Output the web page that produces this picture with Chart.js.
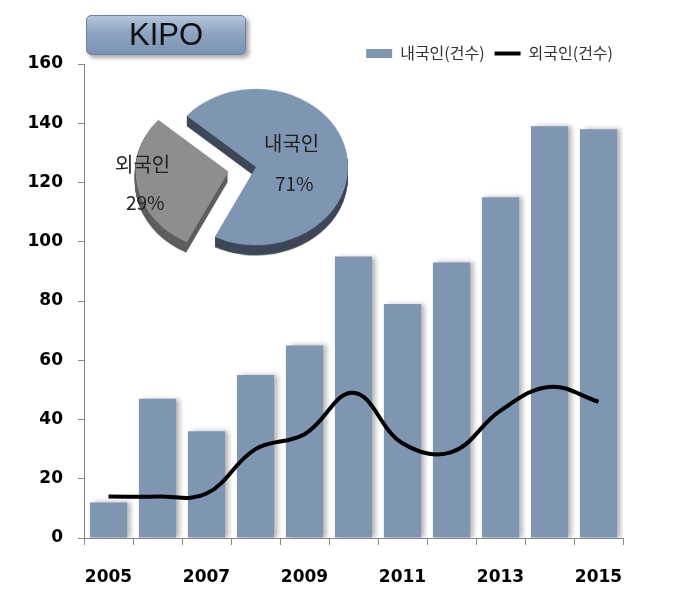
<!DOCTYPE html>
<html><head><meta charset="utf-8">
<script src="https://cdn.jsdelivr.net/npm/chart.js@4"></script>
<style>
html,body{margin:0;padding:0;background:#fff;}
#wrap{position:relative;width:695px;height:596px;overflow:hidden;background:#fff;}
#main{position:absolute;left:0;top:0;}
#title{position:absolute;left:86px;top:15px;width:158px;height:38px;border-radius:5px;
 background:linear-gradient(#b4c5dc,#8ea4c2 45%,#7b92b2);border:1px solid #6d829f;
 box-shadow:3px 3px 4px rgba(0,0,0,0.35);font:31px "Liberation Sans",Arial,sans-serif;color:#111;
 text-align:center;line-height:38px;}
#pie{position:absolute;left:116px;top:27px;transform:scaleY(0.85);transform-origin:center center;}
.pl{position:absolute;font-family:"Noto Sans CJK KR",sans-serif;color:#222;line-height:1;white-space:nowrap;}
</style></head>
<body><div id="wrap">
<canvas id="main" width="695" height="596"></canvas>
<div id="title">KIPO</div>
<canvas id="pie" width="280" height="280"></canvas>
<div class="pl" style="left:264px;top:133px;font-size:20px">내국인</div>
<div class="pl" style="left:275px;top:173px;font-size:19px">71%</div>
<div class="pl" style="left:115px;top:154px;font-size:20px">외국인</div>
<div class="pl" style="left:126px;top:192px;font-size:19px">29%</div>
</div>
<script>
const years = ['2005','2006','2007','2008','2009','2010','2011','2012','2013','2014','2015'];
const domestic = [12, 47, 36, 55, 65, 95, 79, 93, 115, 139, 138];
const foreign = [14, 14, 15, 30, 35, 49, 32, 29, 43, 51, 46];
const seriesNames = ['내국인(건수)', '외국인(건수)'];
const yMin = 0, yMax = 160, yStep = 20;
const pieLabels = ['내국인', '외국인'];
const pieValues = [71, 29];

const tickFont = {family:'DejaVu Sans', size:17, weight:'bold'};

const barShadow = {
  id:'barShadow',
  beforeDatasetDraw(chart,args){
    if(chart.data.datasets[args.index].type==='bar'){
      const c=chart.ctx; c.save();
      c.shadowColor='rgba(0,0,0,0.3)'; c.shadowBlur=5; c.shadowOffsetX=4; c.shadowOffsetY=0;
    }
  },
  afterDatasetDraw(chart,args){
    if(chart.data.datasets[args.index].type==='bar'){ chart.ctx.restore(); }
  }
};

const legendFit = {
  id:'legendFit',
  beforeUpdate(chart){
    const lg = chart.legend;
    if(lg && !lg._patched){
      const f = lg.fit;
      lg.fit = function(){ f.call(this); this.height = 28.6; };
      lg._patched = true;
    }
  }
};

const mainChart = new Chart(document.getElementById('main'), {
  type:'bar',
  data:{
    labels: years,
    datasets:[
      {type:'line', label:seriesNames[1], data:foreign, borderColor:'#000', backgroundColor:'#000',
       borderWidth:4, pointRadius:0, tension:0.4, fill:false, order:0},
      {type:'bar', label:seriesNames[0], data:domestic, backgroundColor:'#7F96B2',
       barPercentage:0.76, categoryPercentage:1, order:1}
    ]
  },
  options:{
    responsive:false, animation:false, devicePixelRatio:1,
    layout:{padding:{top:35.4, left:27.5, right:72, bottom:10}},
    plugins:{
      tooltip:{enabled:false},
      legend:{
        position:'top', align:'end',
        labels:{
          usePointStyle:true, pointStyleWidth:26, boxHeight:9, padding:10,
          color:'#333', font:{family:'Noto Sans CJK KR', size:16},
          generateLabels(chart){
            const ds = chart.data.datasets;
            return [
              {text:ds[1].label, fillStyle:ds[1].backgroundColor, strokeStyle:ds[1].backgroundColor, lineWidth:0,
               pointStyle:'rect', datasetIndex:1, hidden:false, fontColor:'#333'},
              {text:ds[0].label, fillStyle:'#000', strokeStyle:'#000', lineWidth:4,
               pointStyle:'line', datasetIndex:0, hidden:false, fontColor:'#333'}
            ];
          }
        }
      }
    },
    scales:{
      x:{
        afterFit(s){ s.height = 48; },
        grid:{offset:true, drawOnChartArea:false, tickLength:7, color:'#888'},
        border:{display:true, color:'#888'},
        ticks:{autoSkip:false, maxRotation:0, padding:22, color:'#000', font:tickFont,
          callback:function(v,i){ return i%2===0 ? this.getLabelForValue(v) : ''; }}
      },
      y:{
        afterFit(s){ s.width = 56.5; },
        min:yMin, max:yMax,
        grid:{drawOnChartArea:false, tickLength:6, color:'#888'},
        border:{display:true, color:'#888'},
        ticks:{stepSize:yStep, padding:15, color:'#000', font:tickFont}
      }
    }
  },
  plugins:[barShadow, legendFit]
});

const depth = 12;
const pieDepth = {
  id:'pieDepth',
  beforeDatasetsDraw(chart){
    const ctx = chart.ctx;
    const meta = chart.getDatasetMeta(0);
    const sides = ['#3d4756','#5e5e5e'];
    meta.data.forEach((arc,i)=>{
      const p = arc.getProps(['x','y','startAngle','endAngle','outerRadius'], true);
      const off = (arc.options.offset||0)/4;
      const mid = (p.startAngle+p.endAngle)/2;
      const circ = p.endAngle-p.startAngle;
      const fix = 1-Math.sin(Math.min(Math.PI, circ));
      const t = off*(1+fix);
      const cx = p.x+Math.cos(mid)*t, cy = p.y+Math.sin(mid)*t;
      ctx.save();
      ctx.fillStyle = sides[i];
      for(let k=depth;k>=1;k--){
        ctx.beginPath();
        ctx.moveTo(cx, cy+k);
        ctx.arc(cx, cy+k, p.outerRadius+off*fix, p.startAngle, p.endAngle);
        ctx.closePath();
        ctx.fill();
      }
      ctx.restore();
    });
  }
};

const pieChart = new Chart(document.getElementById('pie'), {
  type:'pie',
  data:{labels:pieLabels, datasets:[{data:pieValues, backgroundColor:['#7F96B2','#8E8E8E'],
    borderWidth:0, offset:[0,112], radius:92, rotation:311}]},
  options:{responsive:false, animation:false, devicePixelRatio:1, radius:92, rotation:311,
    layout:{padding:0},
    plugins:{legend:{display:false}, tooltip:{enabled:false}}},
  plugins:[pieDepth]
});
</script>
</body></html>
